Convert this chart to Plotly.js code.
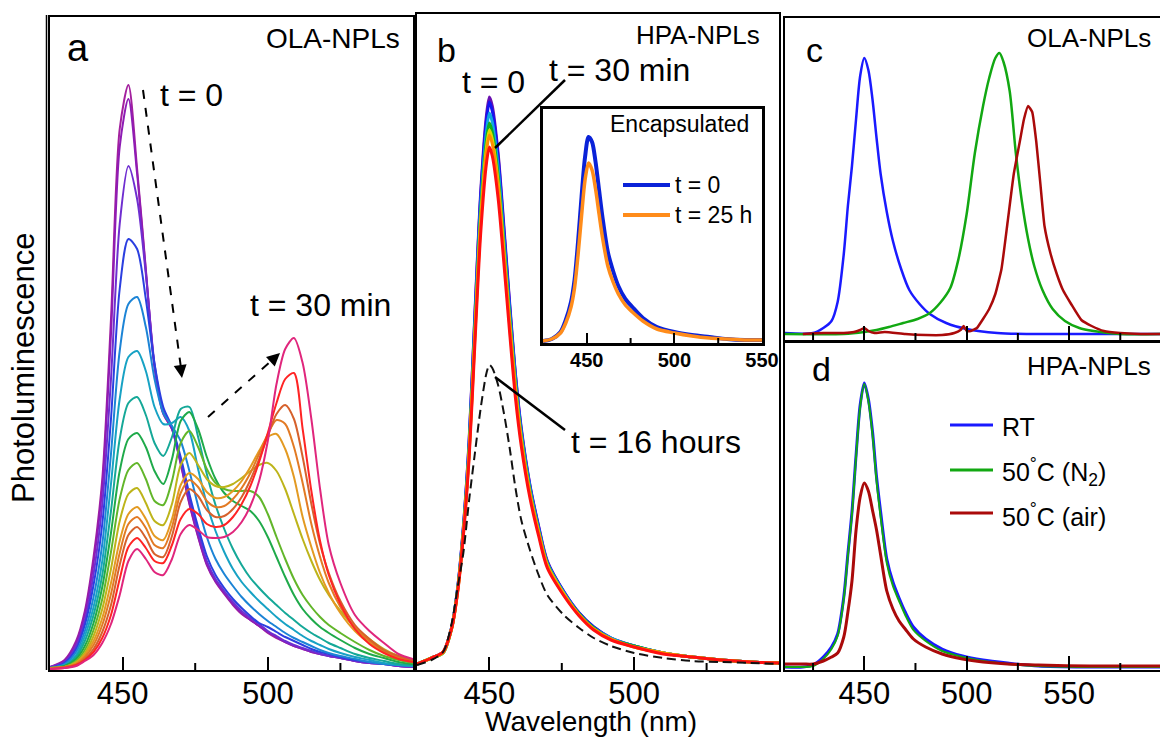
<!DOCTYPE html>
<html><head><meta charset="utf-8">
<script src="https://cdn.plot.ly/plotly-3.0.1.min.js"></script>
<style>html,body{margin:0;padding:0;background:#fff;}#chart{width:1160px;height:739px;}</style>
</head><body><div id="chart"></div>
<script>
const W = 1160, H = 739;
const FONT = 'Liberation Sans, Arial, Helvetica, sans-serif';

// ---------- Panel a : OLA-NPLs, t = 0 ... 30 min ----------
const wlA = [425, 430, 434, 437, 440, 443, 446, 449, 452, 455, 458, 461, 464, 467, 470, 473, 476, 479, 482, 485, 488, 491, 494, 497, 500, 503, 506, 509, 512, 515, 518, 521, 525, 530, 535, 540, 545, 550];
const olaT01 = [2, 9, 28, 58, 112, 190, 350, 540, 584, 500, 400, 302, 255, 240, 205, 165, 132, 104, 87, 75, 64, 55, 49, 43, 36, 31, 27, 23, 20, 17, 15, 13, 11, 8, 6, 5, 3, 2];
const olaT02 = [2, 8, 26, 55, 106, 182, 335, 522, 570, 495, 398, 302, 256, 240, 206, 166, 133, 105, 88, 76, 65, 56, 49, 43, 37, 32, 27, 23, 20, 17, 15, 13, 11, 8, 6, 5, 3, 2];
const olaT03 = [2, 7, 23, 49, 95, 165, 290, 445, 503, 470, 395, 305, 258, 241, 208, 170, 137, 108, 90, 78, 67, 58, 51, 45, 38, 33, 28, 24, 21, 18, 15, 13, 11, 8, 6, 5, 3, 2];
const olaT04 = [1, 6, 20, 44, 84, 145, 250, 380, 430, 420, 370, 305, 262, 242, 212, 175, 142, 113, 94, 81, 70, 61, 53, 46, 42, 37, 32, 28, 24, 20, 17, 15, 12, 9, 7, 5, 4, 3];
const olaT05 = [1, 5, 17, 38, 72, 125, 215, 318, 365, 372, 342, 290, 256, 243, 228, 198, 163, 132, 110, 95, 83, 72, 63, 55, 48, 42, 36, 31, 27, 23, 19, 16, 13, 10, 7, 5, 4, 3];
const olaT06 = [1, 4, 14, 33, 62, 108, 185, 270, 312, 318, 298, 262, 245, 246, 252, 238, 200, 165, 138, 117, 100, 87, 77, 68, 60, 52, 45, 39, 33, 28, 24, 20, 16, 12, 9, 6, 4, 3];
const olaT07 = [1, 3, 12, 28, 54, 94, 158, 230, 266, 272, 254, 226, 213, 232, 260, 262, 232, 195, 164, 140, 120, 104, 91, 81, 72, 64, 56, 49, 42, 36, 31, 26, 21, 15, 11, 8, 5, 4];
const olaT08 = [1, 3, 10, 23, 46, 82, 136, 198, 230, 236, 222, 198, 185, 210, 248, 257, 240, 212, 190, 176, 168, 163, 158, 148, 132, 112, 92, 74, 60, 50, 42, 36, 29, 21, 15, 11, 7, 5];
const olaT09 = [1, 2, 8, 19, 39, 70, 117, 170, 199, 206, 190, 168, 164, 188, 226, 238, 222, 200, 186, 180, 178, 178, 178, 172, 155, 132, 110, 90, 74, 62, 52, 44, 36, 27, 19, 13, 9, 6];
const olaT10 = [1, 2, 7, 16, 33, 60, 100, 148, 175, 181, 166, 148, 144, 165, 204, 216, 204, 190, 183, 182, 185, 191, 198, 204, 206, 198, 180, 155, 130, 108, 89, 74, 58, 42, 30, 20, 13, 8];
const olaT11 = [1, 2, 6, 14, 28, 51, 86, 128, 155, 162, 150, 133, 129, 150, 184, 196, 190, 177, 171, 172, 178, 188, 202, 218, 232, 235, 220, 192, 152, 122, 96, 76, 56, 38, 26, 17, 11, 8];
const olaT12 = [1, 2, 5, 12, 24, 44, 75, 116, 145, 152, 141, 124, 121, 142, 176, 189, 182, 168, 162, 163, 170, 181, 196, 215, 235, 249, 245, 222, 186, 145, 112, 86, 62, 41, 28, 18, 12, 9];
const olaT13 = [0, 2, 4, 10, 20, 37, 64, 104, 134, 142, 131, 115, 112, 133, 167, 180, 173, 159, 152, 153, 160, 172, 189, 210, 233, 255, 264, 250, 212, 165, 125, 96, 68, 44, 30, 19, 13, 9];
const olaT14 = [0, 1, 4, 9, 17, 31, 54, 90, 122, 131, 121, 108, 106, 124, 150, 160, 155, 145, 142, 144, 152, 165, 183, 207, 236, 266, 290, 296, 240, 178, 128, 94, 65, 40, 25, 16, 10, 7];
const olaT15 = [0, 1, 3, 8, 14, 26, 45, 74, 108, 120, 110, 97, 94, 110, 135, 144, 139, 132, 131, 132, 137, 147, 163, 188, 228, 285, 320, 331, 306, 250, 180, 124, 86, 54, 38, 26, 15, 10];
const olaColors = ['#a3209e', '#8e1cb4', '#6f2ed0', '#2b3fe0', '#1c84d6', '#17a2c4', '#15a898', '#1faa4a', '#62b62a', '#bdb41a', '#e39a22', '#e27a24', '#d6612c', '#ff2424', '#e0267c'];

// ---------- Panel b : HPA-NPLs ----------
const wlB = [425, 430, 434, 437, 439, 441, 443, 445, 447, 449, 450, 451, 453, 455, 457, 459, 461, 464, 467, 470, 476, 481, 486, 492, 500, 510, 520, 530, 540, 550];
const hpaPurple = [4, 10, 16, 41, 79, 141, 228, 355, 476, 553, 571, 562, 515, 442, 365, 294, 240, 183, 142, 107, 75, 55, 41, 30, 22, 15, 11, 8, 6, 5];
const hpaBlue   = [4, 10, 16, 41, 79, 140, 226, 352, 472, 548, 566, 557, 511, 438, 362, 292, 238, 182, 141, 106, 75, 55, 41, 30, 22, 15, 11, 8, 6, 5];
const hpaCyan   = [4, 10, 15, 41, 78, 138, 222, 345, 463, 537, 555, 546, 501, 430, 356, 288, 235, 180, 139, 105, 74, 54, 40, 30, 22, 15, 11, 8, 6, 5];
const hpaGreen  = [4, 10, 15, 40, 77, 136, 218, 339, 455, 528, 545, 536, 492, 423, 350, 283, 231, 177, 137, 104, 73, 54, 40, 29, 22, 15, 11, 8, 6, 5];
const hpaYellow = [4, 10, 15, 40, 76, 135, 216, 335, 449, 521, 538, 529, 486, 418, 346, 280, 229, 175, 136, 103, 73, 53, 39, 29, 21, 15, 11, 8, 6, 5];
const hpaOrange = [4, 10, 16, 40, 76, 134, 214, 332, 445, 516, 533, 524, 481, 414, 343, 277, 227, 174, 135, 102, 72, 53, 39, 29, 21, 15, 11, 8, 6, 5];
const hpaRed    = [4, 10, 16, 40, 75, 132, 210, 325, 435, 505, 521, 512, 470, 405, 335, 270, 222, 170, 132, 100, 71, 52, 38, 28, 21, 14, 11, 8, 6, 5];
const hpa16h    = [3, 8, 16, 45, 80, 115, 168, 215, 260, 295, 303, 300, 283, 255, 220, 180, 148, 118, 93, 73, 52, 40, 30, 22, 15, 10, 7, 6, 5, 4];
const hpaColors = ['#6a10b0', '#1414f0', '#10a8e0', '#10b020', '#e0d800', '#ff8c00', '#ff1010'];

// ---------- Inset : encapsulated ----------
const wlI = [425, 430, 435, 438, 441, 443, 445, 447, 449, 451, 453, 455, 457, 459, 462, 465, 468, 472, 476, 482, 490, 500, 510, 520, 530, 540, 550];
const encT0  = [1, 3, 10, 22, 40, 62, 100, 145, 185, 205, 200, 180, 152, 124, 90, 71, 56, 43, 35, 24, 15, 10, 7, 5, 3, 2, 2];
const encT25 = [1, 3, 9, 19, 35, 54, 87, 126, 162, 179, 172, 153, 128, 104, 76, 60, 48, 37, 30, 21, 13, 9, 6, 4, 3, 2, 2];

// ---------- Panel c : OLA-NPLs, temperature ----------
const wlCrt  = [411, 425, 430, 434, 437, 440, 442, 444, 446, 448, 450, 452, 454, 456, 458, 461, 464, 468, 472, 477, 482, 490, 500, 515, 530, 560, 595];
const olaRT  = [1, 1, 6, 13, 32, 80, 128, 168, 215, 258, 276, 264, 235, 196, 160, 122, 93, 65, 44, 30, 20, 11, 5, 1, 0, 0, 0];
const wlCn2  = [411, 440, 450, 456, 462, 469, 476, 482, 487, 492, 496, 500, 504, 508, 511, 514, 516, 518, 521, 524, 527, 530, 533, 537, 542, 548, 555, 562, 575, 595];
const olaN2  = [0, 0, 2, 4, 7, 11, 15, 21, 31, 46, 75, 120, 181, 228, 256, 276, 281, 272, 243, 181, 132, 95, 68, 44, 25, 13, 6, 3, 0, 0];
const wlCair = [420, 430, 440, 445, 448, 450, 452, 455, 460, 470, 480, 488, 494, 497, 498.5, 500, 502, 505, 508, 511, 514, 517, 520, 523, 526, 528, 530, 532, 534, 536, 538, 541, 544, 547, 551, 556, 561, 567, 575, 585, 595];
const olaAir = [0, 1, 1, 2, 4, 6, 3, 1, 2, 0, -1, -1, 1, 4, 8, 3, 3, 6, 15, 25, 40, 65, 112, 160, 193, 215, 228, 222, 192, 150, 108, 80, 60, 44, 30, 14, 8, 3, 1, 0, 0];

// ---------- Panel d : HPA-NPLs, temperature ----------
const wlD    = [411, 420, 425, 430, 434, 437, 440, 442, 444, 446, 448, 450, 452, 454, 456, 458, 461, 464, 467, 470, 474, 480, 488, 498, 508, 520, 535, 560, 595];
const hpaRT  = [0, 0, 2, 10, 20, 33, 70, 113, 155, 212, 262, 284, 268, 236, 190, 155, 108, 85, 69, 55, 40, 28, 18, 11, 7, 4, 1, 0, 0];
const hpaN2  = [0, 0, 1, 8, 18, 31, 68, 111, 153, 210, 260, 283, 266, 233, 186, 150, 104, 81, 66, 52, 37, 26, 16, 10, 6, 3, 1, 0, 0];
const hpaAir = [3, 3, 3, 6, 10, 14, 30, 55, 86, 137, 170, 184, 176, 157, 137, 112, 76, 58, 46, 38, 28, 20, 13, 8, 5, 3, 2, 1, 1];
const tempColors = ['#1a1aff', '#12a812', '#aa0a0a'];
const tempNames = ['RT', '50<sup>°</sup>C (N<sub>2</sub>)', '50<sup>°</sup>C (air)'];

// tick values
const ticksAB = [450, 500], minorAB = [475, 525];
const ticksIn = [450, 500, 550], minorIn = [475, 525];
const ticksCD = [450, 500, 550], minorCD = [425, 475, 525, 575];

// ---------- helpers ----------
const PX = v => v / W;
const PY = v => 1 - v / H;
const traces = [];
function line(x, y, xa, ya, color, width, smoothing) {
  return {x: x, y: y, xaxis: xa, yaxis: ya, type: 'scatter', mode: 'lines',
    hoverinfo: 'skip', showlegend: false,
    line: {color: color, width: width, shape: 'spline', smoothing: smoothing || 0.8}};
}
[olaT01, olaT02, olaT03, olaT04, olaT05, olaT06, olaT07, olaT08, olaT09, olaT10, olaT11, olaT12, olaT13, olaT14, olaT15]
  .forEach((ys, i) => traces.push(line(wlA, ys, 'x', 'y', olaColors[i], 2)));
[hpaPurple, hpaBlue, hpaCyan, hpaGreen, hpaYellow, hpaOrange, hpaRed]
  .forEach((ys, i) => traces.push(line(wlB, ys, 'x2', 'y2', hpaColors[i], 3)));
const dashed = line(wlB, hpa16h, 'x2', 'y2', '#111', 2);
dashed.line.dash = '9px,5px';
traces.push(dashed);
traces.push(line(wlI, encT0, 'x3', 'y3', '#0a22d8', 4));
traces.push(line(wlI, encT25, 'x3', 'y3', '#ff8c1a', 3.5));
traces.push(line(wlCrt, olaRT, 'x4', 'y4', tempColors[0], 2.5));
traces.push(line(wlCn2, olaN2, 'x4', 'y4', tempColors[1], 2.5));
traces.push(line(wlCair, olaAir, 'x4', 'y4', tempColors[2], 2.5, 0.4));
traces.push(line(wlD, hpaRT, 'x5', 'y5', tempColors[0], 3));
traces.push(line(wlD, hpaN2, 'x5', 'y5', tempColors[1], 2));
traces.push(line(wlD, hpaAir, 'x5', 'y5', tempColors[2], 3));

function xAx(x0, x1, range, anchor, major, len, labels, extra) {
  return Object.assign({
    domain: [PX(x0), PX(x1)], range: range, anchor: anchor,
    tickmode: 'array', tickvals: major, ticks: 'inside', ticklen: len, tickwidth: 2, tickcolor: '#000',
    ticklabelstandoff: -5,
    showticklabels: labels, tickfont: {family: FONT, size: 31, color: '#000'},
    showline: true, linecolor: '#000', linewidth: 2.2, mirror: true,
    showgrid: false, zeroline: false
  }, extra || {});
}
function yAx(yb, yt, range, anchor, mirror, extra) {
  return Object.assign({
    domain: [PY(yb), PY(yt)], range: range, anchor: anchor,
    showticklabels: false, ticks: '', showline: true, linecolor: '#000', linewidth: 2.2,
    mirror: mirror, showgrid: false, zeroline: false
  }, extra || {});
}

const rA = [425, 550], rCD = [411.3, 594.4];
const layout = {
  width: W, height: H, margin: {l: 0, r: 0, t: 0, b: 0, pad: 0},
  paper_bgcolor: '#ffffff', plot_bgcolor: '#ffffff', showlegend: false,
  font: {family: FONT, color: '#000'},
  xaxis:  xAx(50, 413, rA, 'y', ticksAB, 13, true),
  yaxis:  yAx(670, 17, [-1, 652], 'x', true),
  xaxis2: xAx(417, 779, rA, 'y2', ticksAB, 13, true),
  yaxis2: yAx(670, 14, [-2, 654], 'x2', true),
  xaxis3: xAx(543, 762, rA, 'y3', ticksIn, 10, true,
          {tickfont: {family: FONT, size: 20, color: '#000', weight: 'bold'}, linewidth: 3, ticklabelstandoff: -3}),
  yaxis3: yAx(343, 109, [-1, 233], 'x3', true, {linewidth: 3}),
  xaxis4: xAx(785, 1160, rCD, 'y4', ticksCD, 14, false),
  yaxis4: yAx(340, 18, [-6, 316], 'x4', false),
  xaxis5: xAx(785, 1160, rCD, 'y5', ticksCD, 14, true),
  yaxis5: yAx(670, 343, [-3, 324], 'x5', false),
  shapes: [], annotations: []
};

// short inward minor tick marks on each axis's own scale
function tickMarks(xref, yAxisPx, vals, len) {
  vals.forEach(v => layout.shapes.push({type: 'line', xref: xref, yref: 'paper', x0: v, x1: v,
    y0: PY(yAxisPx), y1: PY(yAxisPx - len), line: {color: '#000', width: 2}}));
}
tickMarks('x', 670, minorAB, 7);
tickMarks('x2', 670, minorAB, 7);
tickMarks('x3', 343, minorIn, 5);
tickMarks('x4', 340, minorCD, 7);
tickMarks('x5', 670, minorCD, 7);

function txt(text, x, y, size, opts) {
  layout.annotations.push(Object.assign({text: text, x: PX(x), y: PY(y), xref: 'paper', yref: 'paper',
    xanchor: 'center', yanchor: 'middle', showarrow: false, font: {family: FONT, size: size, color: '#000'}}, opts || {}));
}
function seg(x0, y0, x1, y1, color, width, dash) {
  layout.shapes.push({type: 'line', xref: 'paper', yref: 'paper', x0: PX(x0), y0: PY(y0), x1: PX(x1), y1: PY(y1),
    line: {color: color, width: width, dash: dash || 'solid'}});
}
function head(x, y, ax, ay) {
  layout.annotations.push({x: PX(x), y: PY(y), xref: 'paper', yref: 'paper', ax: ax, ay: ay, text: ' ',
    showarrow: true, arrowhead: 2, arrowsize: 1.3, arrowwidth: 2, arrowcolor: '#000', standoff: 0,
    font: {family: FONT, size: 8}});
}

// outer frame line on the left of panel a
seg(46.5, 15, 46.5, 670, '#000', 1.5);

// panel letters / sample labels
txt('a', 78, 48, 38);
txt('OLA-NPLs', 402, 38, 28, {xanchor: 'right'});
txt('b', 446, 50, 34);
txt('HPA-NPLs', 762, 35, 26, {xanchor: 'right'});
txt('c', 814, 50, 34);
txt('OLA-NPLs', 1153, 38, 26, {xanchor: 'right'});
txt('d', 821, 369, 34);
txt('HPA-NPLs', 1153, 366, 26, {xanchor: 'right'});

// panel a time labels and arrows
txt('t = 0', 191, 95, 32);
txt('t = 30 min', 320, 305, 32);
seg(143, 90, 181, 368, '#000', 2, 'dash');
head(182, 378, -2, -14);
seg(208, 417, 271, 361, '#000', 2, 'dash');
head(280, 353, -11, 10);

// panel b labels
txt('t = 0', 493, 82, 32);
txt('t = 30 min', 619, 70, 32);
seg(565, 80, 495, 148, '#000', 2.5);
txt('t = 16 hours', 656, 442, 32);
seg(495, 377, 565, 430, '#000', 2.5);

// inset
txt('Encapsulated', 680, 124, 23);
seg(623, 185, 670, 185, '#0a22d8', 4);
txt('t = 0', 673, 185, 23, {xanchor: 'left'});
seg(623, 215, 670, 215, '#ff8c1a', 4);
txt('t = 25 h', 673, 215, 23, {xanchor: 'left'});

// panel d legend
const legY = [425, 470, 513];
tempNames.forEach((n, i) => {
  seg(950, legY[i], 993, legY[i], tempColors[i], 3);
  txt(n, 1000, legY[i] + 2, 25, {xanchor: 'left'});
});

// axis titles
txt('Wavelength (nm)', 591, 721, 28);
txt('Photoluminescence', 23, 368, 31, {textangle: -90});

Plotly.newPlot('chart', traces, layout, {displayModeBar: false});
</script>
</body></html>
